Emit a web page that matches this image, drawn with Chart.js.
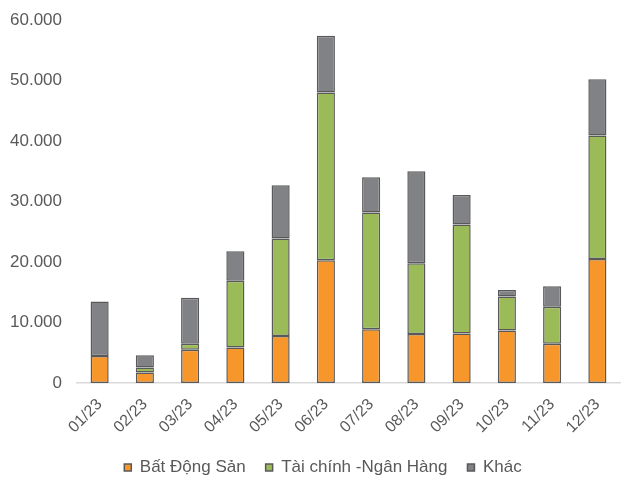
<!DOCTYPE html>
<html>
<head>
<meta charset="utf-8">
<script src="https://cdn.jsdelivr.net/npm/chart.js@4"></script>
<style>
  html, body { margin: 0; padding: 0; background: #fff; }
  #wrap { width: 632px; height: 488px; }
</style>
</head>
<body>
<div id="wrap"><canvas id="chart" width="632" height="488"></canvas></div>
<script>
// Dữ liệu
var thang = ['01/23', '02/23', '03/23', '04/23', '05/23', '06/23', '07/23', '08/23', '09/23', '10/23', '11/23', '12/23'];
var batDongSan = [4500, 1750, 5500, 5900, 7800, 20300, 8900, 8100, 8200, 8700, 6500, 20500];
var taiChinh = [0, 850, 1000, 11000, 16100, 27700, 19300, 11700, 18000, 5600, 6100, 20400];
var khac = [9000, 2000, 7600, 4900, 8800, 9400, 5800, 15200, 4900, 1100, 3400, 9300];
var yTicks = [0, 10000, 20000, 30000, 40000, 50000, 60000];

function fmt(v) {
    return String(v).replace(/\B(?=(\d{3})+(?!\d))/g, '.');
}

function ds(label, data, color) {
    return {
        label: label,
        data: data,
        backgroundColor: color,
        borderColor: '#595959',
        borderWidth: 1.5,
        borderSkipped: false,
        barPercentage: 0.8,
        categoryPercentage: 0.5
    };
}

var font = { family: 'Liberation Sans, Arial', size: 17 };

// dời chú thích sang phải một chút, như bản gốc
var legendShift = {
    id: 'legendShift',
    afterLayout: function (chart) {
        chart.legend.left += 8;
        chart.legend.right += 8;
    }
};

var ctx = document.getElementById('chart').getContext('2d');
new Chart(ctx, {
    type: 'bar',
    data: {
        labels: thang,
        datasets: [
            ds('Bất Động Sản', batDongSan, '#F7962B'),
            ds('Tài chính -Ngân Hàng', taiChinh, '#9BBB59'),
            ds('Khác', khac, '#808285')
        ]
    },
    plugins: [legendShift],
    options: {
        responsive: false,
        animation: false,
        layout: { padding: { left: 10, right: 12, top: 20, bottom: 2 } },
        plugins: {
            tooltip: { enabled: false },
            legend: {
                position: 'bottom',
                labels: {
                    boxWidth: 7,
                    boxHeight: 7,
                    padding: 20,
                    color: '#595959',
                    font: font
                }
            }
        },
        scales: {
            x: {
                stacked: true,
                grid: { display: false, drawTicks: false },
                border: { display: true, color: '#D9D9D9', width: 1.5 },
                afterFit: function (axis) {
                    axis.paddingLeft = 0;
                    axis.paddingRight = 0;
                    axis.height = axis.height - 10;
                },
                ticks: {
                    maxRotation: 45,
                    minRotation: 45,
                    padding: 12,
                    color: '#595959',
                    font: { family: 'Liberation Sans, Arial', size: 16 }
                }
            },
            y: {
                stacked: true,
                min: 0,
                max: 60000,
                afterBuildTicks: function (axis) {
                    axis.ticks = yTicks.map(function (v) { return { value: v }; });
                },
                afterFit: function (axis) {
                    axis.width = 67;
                    axis.paddingTop = 0;
                    axis.paddingBottom = 0;
                },
                grid: { display: false, drawTicks: false },
                border: { display: false },
                ticks: {
                    padding: 15,
                    color: '#595959',
                    font: font,
                    callback: function (v) { return fmt(v); }
                }
            }
        }
    }
});
</script>
</body>
</html>
